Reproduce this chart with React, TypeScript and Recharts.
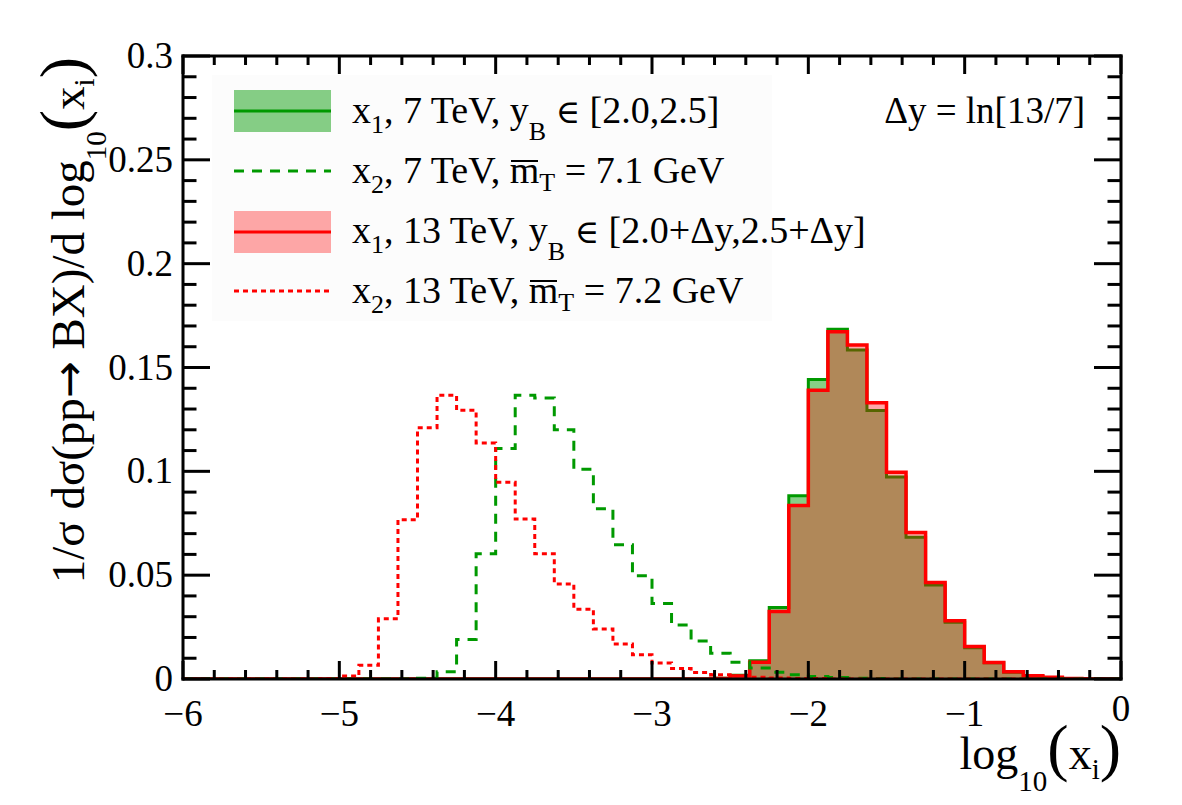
import React from "react";
import { ComposedChart, Area, Line, XAxis, YAxis } from "recharts";

// Histogram binning on log10(x_i): 48 bins of width 0.125 from -6 to 0
const X_MIN = -6;
const BIN_WIDTH = 0.125;

// x1, 7 TeV, y_B in [2.0,2.5]  (filled, green)
const X1_7TEV = [
  0, 0, 0, 0, 0, 0, 0, 0,
  0, 0, 0, 0, 0, 0, 0, 0,
  0, 0, 0, 0, 0, 0, 0, 0,
  0, 0, 0, 0.0004, 0.0018, 0.0088, 0.0344, 0.0883,
  0.1442, 0.1684, 0.1584, 0.1293, 0.0973, 0.0682, 0.0453, 0.0273,
  0.0151, 0.0078, 0.0033, 0.0013, 0.0005, 0.0002, 0, 0,
];

// x2, 7 TeV, mean m_T = 7.1 GeV  (dashed, green)
const X2_7TEV = [
  0, 0, 0, 0, 0, 0, 0, 0,
  0, 0, 0, 0, 0.0004, 0.0035, 0.019, 0.0603,
  0.111, 0.1366, 0.1353, 0.12, 0.101, 0.082, 0.0647, 0.0497,
  0.0363, 0.026, 0.0183, 0.0124, 0.0081, 0.0053, 0.0032, 0.002,
  0.0012, 0.0007, 0.0004, 0.0002, 0, 0, 0, 0,
  0, 0, 0, 0, 0, 0, 0, 0,
];

// x1, 13 TeV, y_B in [2.0+dy,2.5+dy]  (filled, red)
const X1_13TEV = [
  0, 0, 0, 0, 0, 0, 0, 0,
  0, 0, 0, 0, 0, 0, 0, 0,
  0, 0, 0, 0, 0, 0, 0, 0,
  0, 0, 0, 0.0003, 0.0014, 0.0081, 0.0325, 0.0835,
  0.139, 0.1672, 0.1608, 0.133, 0.0995, 0.0706, 0.0465, 0.0281,
  0.0156, 0.0079, 0.0035, 0.0016, 0.0008, 0.0003, 0.0001, 0,
];

// x2, 13 TeV, mean m_T = 7.2 GeV  (dotted, red)
const X2_13TEV = [
  0, 0, 0, 0, 0, 0, 0, 0.0003,
  0.0014, 0.0066, 0.029, 0.0767, 0.121, 0.1366, 0.1294, 0.1137,
  0.0947, 0.077, 0.0603, 0.0458, 0.0336, 0.0241, 0.0169, 0.0117,
  0.0077, 0.005, 0.0031, 0.0021, 0.0014, 0.0009, 0.0005, 0.0003,
  0.0002, 0, 0, 0, 0, 0, 0, 0,
  0, 0, 0, 0, 0, 0, 0, 0,
];

const X_TICKS = [
  -6, -5.8, -5.6, -5.4, -5.2, -5, -4.8, -4.6, -4.4, -4.2, -4,
  -3.8, -3.6, -3.4, -3.2, -3, -2.8, -2.6, -2.4, -2.2, -2,
  -1.8, -1.6, -1.4, -1.2, -1, -0.8, -0.6, -0.4, -0.2, 0,
];
const X_LABELS: Record<string, string> = {
  "-6": "\u22126", "-5": "\u22125", "-4": "\u22124", "-3": "\u22123",
  "-2": "\u22122", "-1": "\u22121", "0": "0",
};
const Y_TICKS = [
  0, 0.01, 0.02, 0.03, 0.04, 0.05, 0.06, 0.07, 0.08, 0.09, 0.1,
  0.11, 0.12, 0.13, 0.14, 0.15, 0.16, 0.17, 0.18, 0.19, 0.2,
  0.21, 0.22, 0.23, 0.24, 0.25, 0.26, 0.27, 0.28, 0.29, 0.3,
];
const Y_LABELS: Record<string, string> = {
  "0": "0", "0.05": "0.05", "0.1": "0.1", "0.15": "0.15",
  "0.2": "0.2", "0.25": "0.25", "0.3": "0.3",
};

// one row per bin lower edge, plus a closing row at the upper edge
const rows = X1_7TEV.map((_, i) => ({
  x: X_MIN + i * BIN_WIDTH,
  g1: X1_7TEV[i],
  g2: X2_7TEV[i],
  r1: X1_13TEV[i],
  r2: X2_13TEV[i],
}));
const last = X1_7TEV.length - 1;
rows.push({
  x: X_MIN + X1_7TEV.length * BIN_WIDTH,
  g1: X1_7TEV[last],
  g2: X2_7TEV[last],
  r1: X1_13TEV[last],
  r2: X2_13TEV[last],
});

const W = 1182;
const H = 805;
const FONT = "'Liberation Serif', 'Times New Roman', Times, serif";
const GREEN = "#009900";
const RED = "#ff0000";

const keyOf = (v: number) => String(Math.round(v * 1000) / 1000);

const BottomTick = (p: any) => {
  const { x, y, payload } = p;
  const label = X_LABELS[keyOf(payload.value)];
  const major = label !== undefined;
  return (
    <g>
      <line x1={x} x2={x} y1={y} y2={y - (major ? 18 : 9)} stroke="#000" strokeWidth={3} />
      {major && (
        <text
          x={x}
          y={y + 47 - (payload.value === 0 ? 5 : 0)}
          textAnchor="middle"
          fontFamily={FONT}
          fontSize={37}
          fill="#000"
        >
          {label}
        </text>
      )}
    </g>
  );
};

const TopTick = (p: any) => {
  const { x, y, payload } = p;
  const major = X_LABELS[keyOf(payload.value)] !== undefined;
  return <line x1={x} x2={x} y1={y} y2={y + (major ? 18 : 9)} stroke="#000" strokeWidth={3} />;
};

const LeftTick = (p: any) => {
  const { x, y, payload } = p;
  const label = Y_LABELS[keyOf(payload.value)];
  const major = label !== undefined;
  return (
    <g>
      <line x1={x} x2={x + (major ? 27 : 13.5)} y1={y} y2={y} stroke="#000" strokeWidth={3} />
      {major && (
        <text x={x - 10} y={y + 12} textAnchor="end" fontFamily={FONT} fontSize={37} fill="#000">
          {label}
        </text>
      )}
    </g>
  );
};

const RightTick = (p: any) => {
  const { x, y, payload } = p;
  const major = Y_LABELS[keyOf(payload.value)] !== undefined;
  return <line x1={x} x2={x - (major ? 27 : 13.5)} y1={y} y2={y} stroke="#000" strokeWidth={3} />;
};

const axisLine = { stroke: "#000", strokeWidth: 3, strokeLinecap: "square" as const };

// legend text helpers (HTML, positioned by baseline)
const LFS = 38;
const Sub = ({ children, drop }: { children: React.ReactNode; drop: number }) => (
  <span style={{ fontSize: 26, position: "relative", top: drop }}>{children}</span>
);
// m with a bar just above its x-height
const Bar = ({ children }: { children: React.ReactNode }) => (
  <span style={{ position: "relative" }}>
    {children}
    <span
      style={{
        position: "absolute",
        left: 1,
        right: 1,
        top: 11,
        borderTop: "2px solid #000",
      }}
    />
  </span>
);
const Elem = () => (
  <span style={{ fontSize: 33, fontFamily: "'DejaVu Serif', serif" }}>∈</span>
);

const LegendRow = ({ baseline, children }: { baseline: number; children: React.ReactNode }) => (
  <div
    style={{
      position: "absolute",
      left: 352,
      top: baseline - 33.4,
      fontFamily: FONT,
      fontSize: LFS,
      lineHeight: "41px",
      whiteSpace: "nowrap",
      color: "#000",
    }}
  >
    {children}
  </div>
);

function Overlay() {
  const lx0 = 234;
  const lx1 = 331;
  return (
    <>
      <svg
        width={W}
        height={H}
        style={{ position: "absolute", left: 0, top: 0, pointerEvents: "none" }}
      >
        {/* legend swatches */}
        <rect x={lx0} y={90} width={lx1 - lx0} height={42} fill={GREEN} fillOpacity={0.47} />
        <line x1={lx0} x2={lx1} y1={111} y2={111} stroke={GREEN} strokeWidth={3} />
        <line x1={lx0} x2={lx1} y1={171} y2={171} stroke={GREEN} strokeWidth={3} strokeDasharray="10 8" />
        <rect x={lx0} y={211} width={lx1 - lx0} height={42} fill={RED} fillOpacity={0.34} />
        <line x1={lx0} x2={lx1} y1={232} y2={232} stroke={RED} strokeWidth={3} />
        <line x1={lx0} x2={lx1} y1={291} y2={291} stroke={RED} strokeWidth={3} strokeDasharray="5 4" />

        <text x={1085} y={123} textAnchor="end" fontFamily={FONT} fontSize={37} fill="#000">
          Δy = ln[13/7]
        </text>

        {/* axis titles */}
        <text
          transform="translate(84 57) rotate(-90)"
          textAnchor="end"
          fontFamily={FONT}
          fontSize={47}
          fill="#000"
        >
          1/σ dσ(pp
          <tspan fontFamily="'DejaVu Sans', sans-serif" fontSize={44}>→</tspan>
          <tspan> BX)/d log</tspan>
          <tspan fontSize={29} dy={22}>10</tspan>
          <tspan fontSize={64} dy={-22}>(</tspan>
          <tspan>x</tspan>
          <tspan fontSize={29} dy={10}>i</tspan>
          <tspan fontSize={64} dy={-10}>)</tspan>
        </text>
        <text x={1121} y={769} textAnchor="end" fontFamily={FONT} fontSize={46} fill="#000">
          log
          <tspan fontSize={29} dy={22}>10</tspan>
          <tspan fontSize={64} dy={-22}>(</tspan>
          <tspan>x</tspan>
          <tspan fontSize={29} dy={10}>i</tspan>
          <tspan fontSize={64} dy={-10}>)</tspan>
        </text>
      </svg>
      <LegendRow baseline={123}>
        x<Sub drop={10}>1</Sub>, 7 TeV, y<Sub drop={17}>B</Sub> <Elem /> [2.0,2.5]
      </LegendRow>
      <LegendRow baseline={183}>
        x<Sub drop={10}>2</Sub>, 7 TeV, <Bar>m</Bar>
        <Sub drop={8}>T</Sub> = 7.1 GeV
      </LegendRow>
      <LegendRow baseline={243}>
        x<Sub drop={10}>1</Sub>, 13 TeV, y<Sub drop={17}>B</Sub> <Elem /> [2.0+Δy,2.5+Δy]
      </LegendRow>
      <LegendRow baseline={303}>
        x<Sub drop={10}>2</Sub>, 13 TeV, <Bar>m</Bar>
        <Sub drop={8}>T</Sub> = 7.2 GeV
      </LegendRow>
    </>
  );
}

export default function App() {
  return (
    <div style={{ position: "absolute", left: 0, top: 0, width: W, height: H, background: "#fff" }}>
      <div
        style={{ position: "absolute", left: 212, top: 75, width: 560, height: 246, background: "#fcfcfc" }}
      />
      <div style={{ position: "absolute", left: 0, top: 0 }}>
        <ComposedChart
          width={W}
          height={H}
          data={rows}
          margin={{ top: 55, right: 60, bottom: 125, left: 182 }}
        >
          <Area
            type="stepAfter"
            dataKey="g1"
            stroke={GREEN}
            strokeWidth={3}
            fill={GREEN}
            fillOpacity={0.47}
            dot={false}
            activeDot={false}
            isAnimationActive={false}
          />
          <Line
            type="stepAfter"
            dataKey="g2"
            stroke={GREEN}
            strokeWidth={3}
            strokeDasharray="10 8"
            dot={false}
            activeDot={false}
            isAnimationActive={false}
          />
          <Area
            type="stepAfter"
            dataKey="r1"
            stroke={RED}
            strokeWidth={3.5}
            fill={RED}
            fillOpacity={0.34}
            dot={false}
            activeDot={false}
            isAnimationActive={false}
          />
          <Line
            type="stepAfter"
            dataKey="r2"
            stroke={RED}
            strokeWidth={3}
            strokeDasharray="5 4"
            dot={false}
            activeDot={false}
            isAnimationActive={false}
          />
          <XAxis
            dataKey="x"
            type="number"
            domain={[-6, 0]}
            allowDataOverflow
            ticks={X_TICKS}
            interval={0}
            height={1}
            tickSize={0}
            tickMargin={0}
            tickLine={false}
            axisLine={axisLine}
            tick={BottomTick}
          />
          <XAxis
            xAxisId="top"
            orientation="top"
            dataKey="x"
            type="number"
            domain={[-6, 0]}
            allowDataOverflow
            ticks={X_TICKS}
            interval={0}
            height={1}
            tickSize={0}
            tickMargin={0}
            tickLine={false}
            axisLine={axisLine}
            tick={TopTick}
          />
          <YAxis
            type="number"
            domain={[0, 0.3]}
            allowDataOverflow
            ticks={Y_TICKS}
            interval={0}
            width={1}
            tickSize={0}
            tickMargin={0}
            tickLine={false}
            axisLine={axisLine}
            tick={LeftTick}
          />
          <YAxis
            yAxisId="right"
            orientation="right"
            type="number"
            domain={[0, 0.3]}
            allowDataOverflow
            ticks={Y_TICKS}
            interval={0}
            width={1}
            tickSize={0}
            tickMargin={0}
            tickLine={false}
            axisLine={axisLine}
            tick={RightTick}
          />
        </ComposedChart>
      </div>
      <Overlay />
    </div>
  );
}
